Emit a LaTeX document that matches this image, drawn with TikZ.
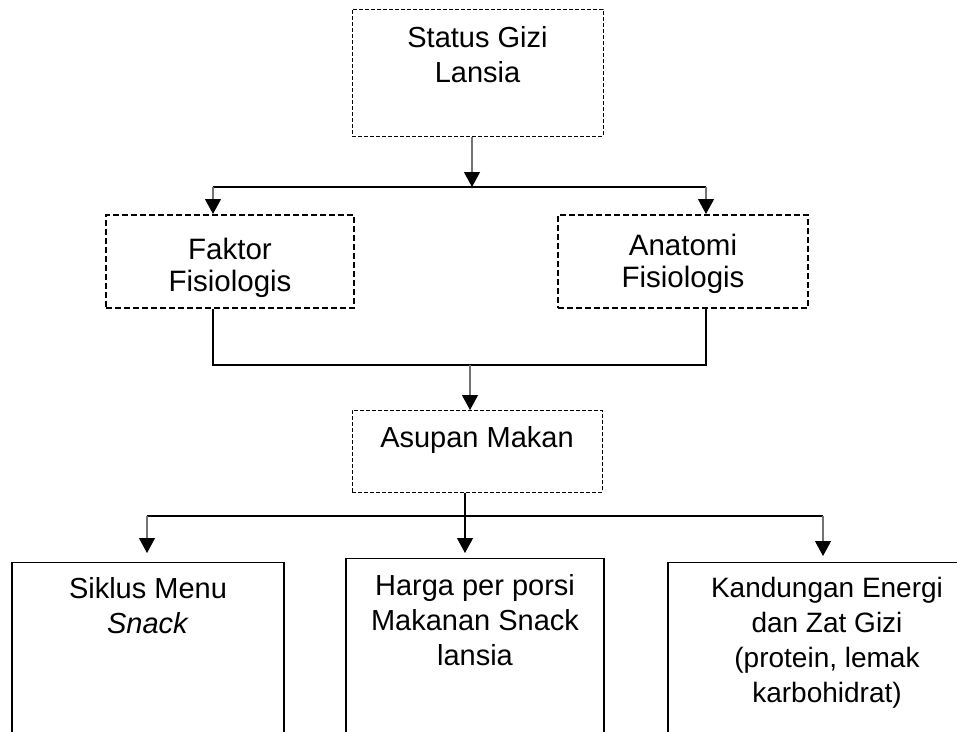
\documentclass[tikz,border=0pt]{standalone}
\usepackage{fontspec}
\setmainfont{Liberation Sans}
\usetikzlibrary{arrows.meta,positioning}
\tikzset{
  % kotak
  kotak/.style={rectangle,align=center,inner sep=0pt,
                font=\fontsize{29}{35}\selectfont},
  putus/.style={kotak,draw=black,line width=0.9pt,dash pattern=on 4pt off 2pt},
  putustebal/.style={kotak,draw=black,line width=1.9pt,dash pattern=on 6pt off 3pt,
                     font=\fontsize{29.5}{32}\selectfont},
  penuh/.style={kotak,draw=black,line width=1.4pt},
  % garis
  garis/.style={draw=black,line width=1.2pt},
  panah/.style={-{Triangle[length=15pt,width=16pt,color=black]},draw=black!55,
                line width=1.1pt},
}
\begin{document}
\begin{tikzpicture}[x=1pt,y=-1pt]
  \useasboundingbox (0,0) rectangle (957,731);
  \clip (0,0) rectangle (957,731);
  \node[putus,anchor=north,minimum width=251pt,text height=73pt,text depth=54pt]
    (status) at (477.5,9) {Status Gizi\\Lansia};
  \node[putustebal,anchor=north,minimum width=248pt,text height=77pt,text depth=16pt]
    (faktor) at (230,214) {Faktor\\Fisiologis};
  \node[putustebal,anchor=north,minimum width=250pt,text height=73pt,text depth=20pt]
    (anatomi) at (683,214) {Anatomi\\Fisiologis};
  \node[putus,anchor=north,minimum width=250pt,text height=37pt,text depth=45pt]
    (asupan) at (477,410) {Asupan Makan};
  \node[penuh,anchor=north,minimum width=272pt,text height=71pt,text depth=112pt]
    (siklus) at (148,562) {Siklus Menu\\\textit{Snack}};
  \node[penuh,anchor=north,minimum width=258pt,text height=107pt,text depth=80pt]
    (harga) at (475,558) {Harga per porsi\\Makanan Snack\\lansia};
  \node[penuh,anchor=north,minimum width=318pt,text height=140pt,text depth=43pt,
        font=\fontsize{28}{35}\selectfont]
    (kandungan) at (827,562) {Kandungan Energi\\dan Zat Gizi\\(protein, lemak\\karbohidrat)};
  \coordinate (j1) at (472,187);
  \coordinate (fk) at (213,187);
  \coordinate (an) at (706,187);
  \coordinate (fb) at (213,365);
  \coordinate (ab) at (706,365);
  \coordinate (j2) at (470,365);
  \coordinate (j3) at (465,516);
  \coordinate (sk) at (147,516);
  \coordinate (kd) at (823,516);
  \draw[panah] (status.south -| j1) -- (j1);
  \draw[garis] (fk) -- (an);
  \draw[panah] (fk) -- (fk |- faktor.north);
  \draw[panah] (an) -- (an |- anatomi.north);
  \draw[garis] (faktor.south -| fb) -- (fb) -- (ab) -- (anatomi.south -| ab);
  \draw[panah] (j2) -- (j2 |- asupan.north);
  \draw[garis] (sk) -- (kd);
  \draw[panah,draw=black,shorten >=5pt] (asupan.south -| j3) -- (j3 |- harga.north);
  \draw[panah,shorten >=9pt] (sk) -- (sk |- siklus.north);
  \draw[panah,shorten >=6pt] (kd) -- (kd |- kandungan.north);
\end{tikzpicture}
\end{document}
